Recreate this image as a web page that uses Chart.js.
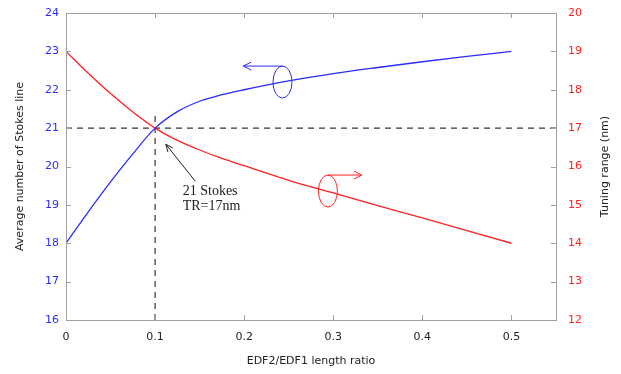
<!DOCTYPE html>
<html>
<head>
<meta charset="utf-8">
<script src="https://cdn.jsdelivr.net/npm/chart.js@4.4.1/dist/chart.umd.min.js"></script>
<style>
  html, body { margin: 0; padding: 0; background: #fff; }
  #wrap { width: 621px; height: 374px; }
</style>
</head>
<body>
<div id="wrap"><canvas id="chart"></canvas></div>
<script>
// valores
const ratio = [0, 0.025, 0.05, 0.075, 0.1, 0.125, 0.15, 0.175, 0.2, 0.25, 0.3, 0.35, 0.4, 0.45, 0.5]
const stokes = [18, 18.82, 19.6, 20.33, 21, 21.43, 21.7, 21.87, 22.0, 22.23, 22.42, 22.58, 22.73, 22.87, 23]
const tuning = [19, 18.43, 17.9, 17.42, 17, 16.68, 16.43, 16.21, 16.02, 15.64, 15.31, 14.98, 14.66, 14.33, 14]
const xTicks = [0, 0.1, 0.2, 0.3, 0.4, 0.5]
const leftTicks = [16, 17, 18, 19, 20, 21, 22, 23, 24]
const rightTicks = [12, 13, 14, 15, 16, 17, 18, 19, 20]
const crossX = 0.1
const crossStokes = 21
const vLineTop = 21.4

const BLUE = '#2b2bff'
const RED = '#ff2222'
const FRAME = '#a0a0a0'
const sans = '"DejaVu Sans", sans-serif'

// marco, marcas hacia adentro y anotaciones
const extras = {
  id: 'extras',
  afterDatasetsDraw(chart) {
    const { ctx, chartArea: a, scales } = chart
    const x = scales.x, y = scales.y, y2 = scales.y2
    ctx.save()
    ctx.strokeStyle = FRAME
    ctx.lineWidth = 1
    ctx.strokeRect(a.left + 0.5, a.top + 0.5, a.right - a.left, a.bottom - a.top)
    const t = 5
    ctx.beginPath()
    xTicks.forEach(v => {
      const px = Math.round(x.getPixelForValue(v)) + 0.5
      ctx.moveTo(px, a.bottom); ctx.lineTo(px, a.bottom - t)
      ctx.moveTo(px, a.top); ctx.lineTo(px, a.top + t)
    })
    leftTicks.forEach(v => {
      const py = Math.round(y.getPixelForValue(v)) + 0.5
      ctx.moveTo(a.left, py); ctx.lineTo(a.left + t, py)
    })
    rightTicks.forEach(v => {
      const py = Math.round(y2.getPixelForValue(v)) + 0.5
      ctx.moveTo(a.right, py); ctx.lineTo(a.right - t, py)
    })
    ctx.stroke()

    // titulo del eje derecho, leido de abajo hacia arriba como el izquierdo
    ctx.save()
    ctx.translate(605.5, (a.top + a.bottom) / 2)
    ctx.rotate(-Math.PI / 2)
    ctx.fillStyle = '#222'
    ctx.font = '11px ' + sans
    ctx.textAlign = 'center'
    ctx.textBaseline = 'middle'
    ctx.fillText('Tuning range (nm)', 0, 0)
    ctx.restore()

    // ovalos con flecha
    const oval = (cx, cy, color, tipX, head) => {
      ctx.strokeStyle = color
      ctx.lineWidth = 1
      ctx.beginPath()
      ctx.ellipse(cx, cy, 9.5, 16, 0, 0, Math.PI * 2)
      ctx.stroke()
      ctx.beginPath()
      ctx.moveTo(cx, cy - 16); ctx.lineTo(tipX, cy - 16)
      ctx.moveTo(tipX - head, cy - 20); ctx.lineTo(tipX, cy - 16); ctx.lineTo(tipX - head, cy - 12)
      ctx.stroke()
    }
    oval(x.getPixelForValue(0.243), y.getPixelForValue(22.2), BLUE, x.getPixelForValue(0.199), -8)
    oval(x.getPixelForValue(0.294), y2.getPixelForValue(15.36), RED, x.getPixelForValue(0.332), 8)

    // flecha negra y texto
    const ax0 = x.getPixelForValue(0.145), ay0 = y.getPixelForValue(19.62)
    const ax1 = x.getPixelForValue(0.112), ay1 = y.getPixelForValue(20.58)
    const ang = Math.atan2(ay1 - ay0, ax1 - ax0)
    ctx.strokeStyle = '#222'
    ctx.beginPath()
    ctx.moveTo(ax0, ay0); ctx.lineTo(ax1, ay1)
    ctx.moveTo(ax1 - 8 * Math.cos(ang - 0.4), ay1 - 8 * Math.sin(ang - 0.4))
    ctx.lineTo(ax1, ay1)
    ctx.lineTo(ax1 - 8 * Math.cos(ang + 0.4), ay1 - 8 * Math.sin(ang + 0.4))
    ctx.stroke()
    ctx.fillStyle = '#222'
    ctx.font = '14px "Liberation Serif", serif'
    ctx.textBaseline = 'middle'
    ctx.textAlign = 'left'
    ctx.fillText('21 Stokes', x.getPixelForValue(0.131), y.getPixelForValue(19.36))
    ctx.fillText('TR=17nm', x.getPixelForValue(0.131), y.getPixelForValue(18.97))
    ctx.restore()
  }
}

// ancho fijo y sin relleno extra para que el area del grafico quede donde en la figura
const fixY = w => s => { s.width = w; s.paddingTop = 0; s.paddingBottom = 0 }

window.addEventListener('load', () => {
  const stokesPts = ratio.map((r, i) => ({ x: r, y: stokes[i] }))
  const tuningPts = ratio.map((r, i) => ({ x: r, y: tuning[i] }))

  new Chart(document.getElementById('chart'), {
    type: 'scatter',
    data: {
      datasets: [{
        label: 'Average number of Stokes line',
        data: stokesPts,
        yAxisID: 'y',
        showLine: true,
        borderColor: BLUE,
        borderWidth: 1.3,
        pointRadius: 0,
        cubicInterpolationMode: 'monotone',
        order: 1
      }, {
        label: 'Tuning range (nm)',
        data: tuningPts,
        yAxisID: 'y2',
        showLine: true,
        borderColor: RED,
        borderWidth: 1.3,
        pointRadius: 0,
        cubicInterpolationMode: 'monotone',
        order: 1
      }, {
        label: 'h',
        data: [{ x: 0, y: crossStokes }, { x: 0.55, y: crossStokes }],
        yAxisID: 'y',
        showLine: true,
        borderColor: '#333',
        borderWidth: 1.2,
        borderDash: [6, 5],
        pointRadius: 0,
        order: 2
      }, {
        label: 'v',
        data: [{ x: crossX, y: 16 }, { x: crossX, y: vLineTop }],
        yAxisID: 'y',
        showLine: true,
        borderColor: '#333',
        borderWidth: 1.2,
        borderDash: [6, 5],
        pointRadius: 0,
        order: 2
      }]
    },
    options: {
      responsive: true,
      maintainAspectRatio: false,
      animation: false,
      layout: { padding: { top: 13, left: 0, right: 0, bottom: 0 } },
      plugins: { legend: { display: false }, tooltip: { enabled: false } },
      scales: {
        x: {
          type: 'linear',
          min: 0,
          max: 0.55,
          afterBuildTicks: s => { s.ticks = xTicks.map(v => ({ value: v })) },
          afterFit: s => { s.height = 54; s.paddingLeft = 0; s.paddingRight = 0 },
          grid: { display: false, drawTicks: false },
          border: { display: false },
          ticks: {
            padding: 11,
            color: '#222',
            font: { family: sans, size: 11 },
            callback: v => String(v)
          },
          title: {
            display: true,
            text: 'EDF2/EDF1 length ratio',
            color: '#222',
            font: { family: sans, size: 11 },
            padding: { bottom: 6 }
          }
        },
        y: {
          position: 'left',
          min: 16,
          max: 24,
          afterBuildTicks: s => { s.ticks = leftTicks.map(v => ({ value: v })) },
          afterFit: fixY(66),
          grid: { display: false, drawTicks: false },
          border: { display: false },
          ticks: { padding: 7, color: BLUE, font: { family: sans, size: 11 } },
          title: {
            display: true,
            text: 'Average number of Stokes line',
            color: '#222',
            font: { family: sans, size: 11 },
            padding: { top: 14 }
          }
        },
        y2: {
          position: 'right',
          min: 12,
          max: 20,
          afterBuildTicks: s => { s.ticks = rightTicks.map(v => ({ value: v })) },
          afterFit: fixY(65),
          grid: { display: false, drawTicks: false },
          border: { display: false },
          ticks: { padding: 12, color: RED, font: { family: sans, size: 11 } },
          title: { display: false }
        }
      }
    },
    plugins: [extras]
  })
})
</script>
</body>
</html>
